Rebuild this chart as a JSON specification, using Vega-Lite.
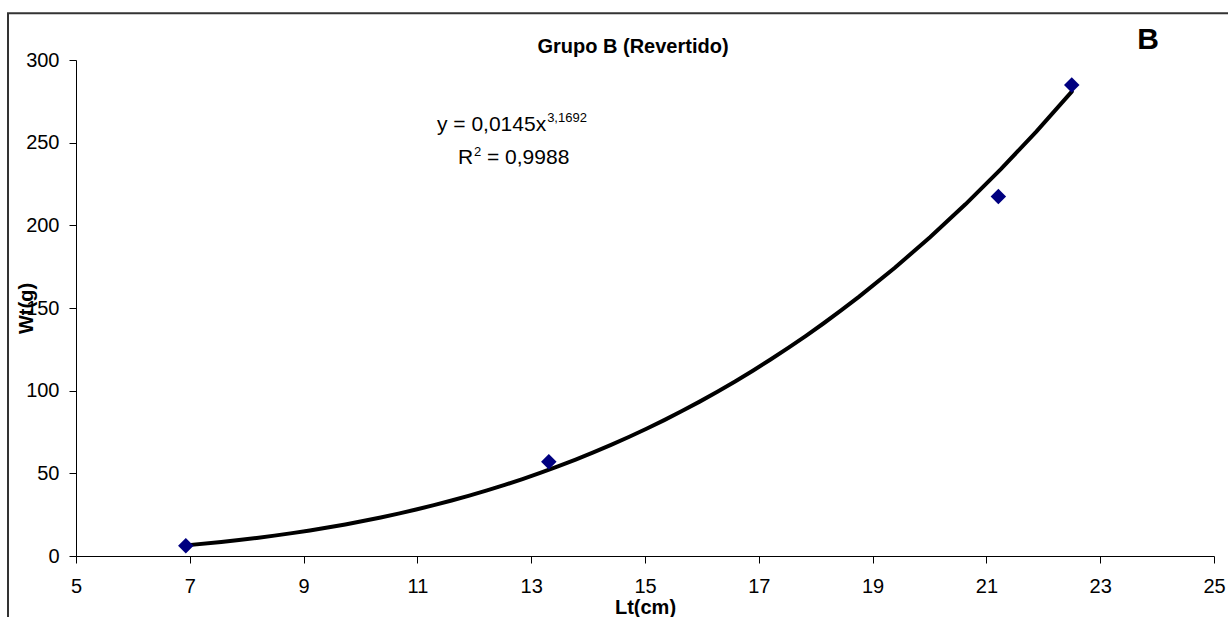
{
  "$schema": "https://vega.github.io/schema/vega-lite/v6.json",
  "width": 1138,
  "height": 496,
  "autosize": {"type": "none"},
  "padding": {"left": 76, "top": 60, "right": 14, "bottom": 61},
  "background": "white",
  "config": {
    "view": {"stroke": null},
    "font": "Liberation Sans",
    "axis": {
      "grid": false,
      "domainColor": "#000000",
      "tickColor": "#000000",
      "labelColor": "#000000",
      "titleColor": "#000000",
      "labelFont": "Liberation Sans",
      "titleFont": "Liberation Sans",
      "labelFontSize": 20,
      "titleFontSize": 20,
      "titleFontWeight": "bold",
      "tickSize": 7,
      "domainWidth": 1,
      "tickWidth": 1
    }
  },
  "datasets": {
    "pts": [
      {"Lt": 6.93, "Wt": 6.2},
      {"Lt": 13.31, "Wt": 57.0},
      {"Lt": 21.21, "Wt": 217.4},
      {"Lt": 22.5, "Wt": 284.9}
    ],
    "one": [{"k": 1}]
  },
  "layer": [
    {
      "data": {"name": "one"},
      "mark": {"type": "rect", "fill": null, "stroke": "#333333", "strokeWidth": 2, "clip": false},
      "encoding": {
        "x": {"datum": 3.805, "type": "quantitative", "scale": {"domain": [5, 25], "nice": false, "zero": false}},
        "x2": {"datum": 26.5},
        "y": {"datum": 328.3, "type": "quantitative", "scale": {"domain": [0, 300], "nice": false, "zero": false}},
        "y2": {"datum": -60}
      }
    },
    {
      "data": {"name": "pts"},
      "transform": [
        {"regression": "Wt", "on": "Lt", "method": "pow", "extent": [6.93, 22.5]}
      ],
      "mark": {"type": "line", "color": "#000000", "strokeWidth": 4, "strokeCap": "round"},
      "encoding": {
        "x": {"field": "Lt", "type": "quantitative"},
        "y": {"field": "Wt", "type": "quantitative"}
      }
    },
    {
      "data": {"name": "pts"},
      "mark": {"type": "point", "shape": "diamond", "filled": true, "color": "#000080", "size": 240, "opacity": 1},
      "encoding": {
        "x": {
          "field": "Lt",
          "type": "quantitative",
          "scale": {"domain": [5, 25], "nice": false, "zero": false},
          "axis": {
            "values": [5, 7, 9, 11, 13, 15, 17, 19, 21, 23, 25],
            "format": "d",
            "labelPadding": 13,
            "title": "Lt(cm)",
            "titleX": 569,
            "titleY": 57,
            "titleBaseline": "alphabetic",
            "titleAlign": "center",
            "labelFlush": false,
            "labelOverlap": false
          }
        },
        "y": {
          "field": "Wt",
          "type": "quantitative",
          "scale": {"domain": [0, 300], "nice": false, "zero": false},
          "axis": {
            "values": [0, 50, 100, 150, 200, 250, 300],
            "format": "d",
            "labelPadding": 10,
            "title": "Wt(g)",
            "titleAngle": -90,
            "titleX": -44,
            "titleY": 248,
            "titleBaseline": "alphabetic",
            "titleAlign": "center",
            "labelOverlap": false
          }
        }
      }
    },
    {
      "data": {"name": "one"},
      "mark": {"type": "text", "text": "Grupo B (Revertido)", "align": "center", "baseline": "middle", "fontSize": 20, "fontWeight": "bold", "fill": "#000000", "font": "Liberation Sans"},
      "encoding": {
        "x": {"datum": 14.789, "type": "quantitative"},
        "y": {"datum": 307.9, "type": "quantitative"}
      }
    },
    {
      "data": {"name": "one"},
      "mark": {"type": "text", "text": "y = 0,0145x", "align": "left", "baseline": "middle", "fontSize": 21, "fontWeight": "normal", "fill": "#000000", "font": "Liberation Sans"},
      "encoding": {
        "x": {"datum": 11.344, "type": "quantitative"},
        "y": {"datum": 260.7, "type": "quantitative"}
      }
    },
    {
      "data": {"name": "one"},
      "mark": {"type": "text", "text": "3,1692", "align": "left", "baseline": "middle", "fontSize": 13, "fontWeight": "normal", "fill": "#000000", "font": "Liberation Sans"},
      "encoding": {
        "x": {"datum": 13.28, "type": "quantitative"},
        "y": {"datum": 265, "type": "quantitative"}
      }
    },
    {
      "data": {"name": "one"},
      "mark": {"type": "text", "text": "R", "align": "left", "baseline": "middle", "fontSize": 21, "fontWeight": "normal", "fill": "#000000", "font": "Liberation Sans"},
      "encoding": {
        "x": {"datum": 11.713, "type": "quantitative"},
        "y": {"datum": 240.8, "type": "quantitative"}
      }
    },
    {
      "data": {"name": "one"},
      "mark": {"type": "text", "text": "2", "align": "left", "baseline": "middle", "fontSize": 13, "fontWeight": "normal", "fill": "#000000", "font": "Liberation Sans"},
      "encoding": {
        "x": {"datum": 11.995, "type": "quantitative"},
        "y": {"datum": 244.5, "type": "quantitative"}
      }
    },
    {
      "data": {"name": "one"},
      "mark": {"type": "text", "text": "= 0,9988", "align": "left", "baseline": "middle", "fontSize": 21, "fontWeight": "normal", "fill": "#000000", "font": "Liberation Sans"},
      "encoding": {
        "x": {"datum": 12.223, "type": "quantitative"},
        "y": {"datum": 240.8, "type": "quantitative"}
      }
    },
    {
      "data": {"name": "one"},
      "mark": {"type": "text", "text": "B", "align": "center", "baseline": "middle", "fontSize": 30, "fontWeight": "bold", "fill": "#000000", "font": "Liberation Sans"},
      "encoding": {
        "x": {"datum": 23.84, "type": "quantitative"},
        "y": {"datum": 312, "type": "quantitative"}
      }
    }
  ]
}
